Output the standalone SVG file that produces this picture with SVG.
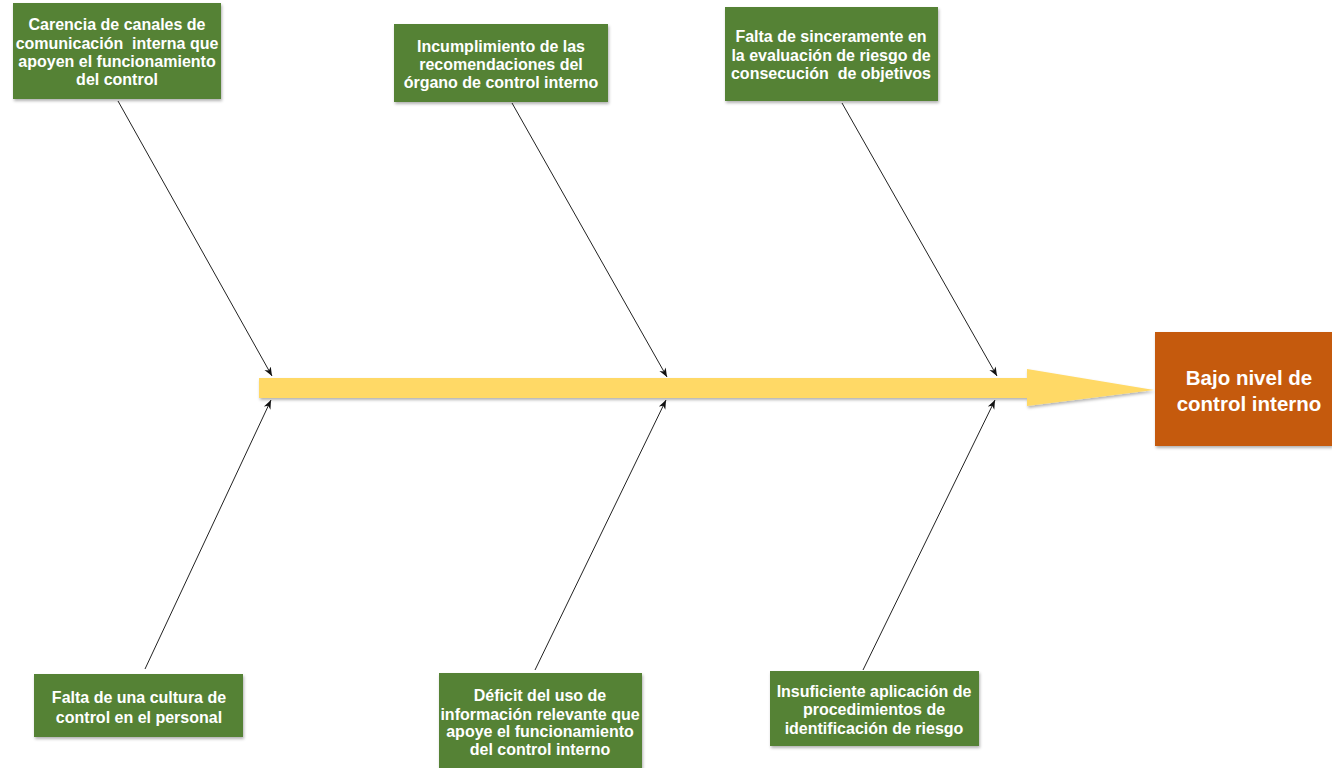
<svg xmlns="http://www.w3.org/2000/svg" width="1332" height="768" viewBox="0 0 1332 768">
<style>
.box{fill:#548235;}
.eff{fill:#C55A11;}
.t{font-family:"Liberation Sans",Arial,sans-serif;font-weight:bold;font-size:16px;fill:#fff;text-anchor:middle;white-space:pre;}
.te{font-family:"Liberation Sans",Arial,sans-serif;font-weight:bold;font-size:20.5px;fill:#fff;text-anchor:middle;}
.c{stroke:#222;stroke-width:1;fill:none;marker-end:url(#ah);}
</style>
<defs>
<marker id="ah" viewBox="0 0 10 10" refX="10" refY="5" markerWidth="9" markerHeight="9" markerUnits="userSpaceOnUse" orient="auto">
<path d="M0,1 L10,5 L0,9 L3,5 Z" fill="#111"/>
</marker>
<filter id="sh" x="-10%" y="-10%" width="130%" height="140%">
<feDropShadow dx="1" dy="2" stdDeviation="1.5" flood-color="#000" flood-opacity="0.3"/>
</filter>
</defs>
<rect width="1332" height="768" fill="#fff"/>
<g id="spine">
<path d="M259,378 L1027,378 L1027,369 L1154,390 L1027,406 L1027,398 L259,398 Z" fill="#FFD966" filter="url(#sh)"/>
</g>
<g id="connectors">
<line class="c" x1="118" y1="101" x2="272" y2="376"/>
<line class="c" x1="512" y1="103" x2="667" y2="377"/>
<line class="c" x1="842" y1="103" x2="997" y2="376"/>
<line class="c" x1="145" y1="669" x2="271" y2="400"/>
<line class="c" x1="535" y1="670" x2="666" y2="400"/>
<line class="c" x1="863" y1="670" x2="995" y2="400"/>
</g>
<g id="n1">
<rect class="box" x="13" y="3" width="208" height="96" filter="url(#sh)"/>
<text class="t" x="117" y="30">Carencia de canales de</text>
<text class="t" x="117" y="49" xml:space="preserve">comunicación  interna que</text>
<text class="t" x="117" y="67">apoyen el funcionamiento</text>
<text class="t" x="117" y="85">del control</text>
</g>
<g id="n2">
<rect class="box" x="394" y="24" width="214" height="78" filter="url(#sh)"/>
<text class="t" x="501" y="52">Incumplimiento de las</text>
<text class="t" x="501" y="70">recomendaciones del</text>
<text class="t" x="501" y="88">órgano de control interno</text>
</g>
<g id="n3">
<rect class="box" x="725" y="7" width="213" height="94" filter="url(#sh)"/>
<text class="t" x="831" y="42">Falta de sinceramente en</text>
<text class="t" x="831" y="61">la evaluación de riesgo de</text>
<text class="t" x="831" y="79" xml:space="preserve">consecución  de objetivos</text>
</g>
<g id="n4">
<rect class="box" x="34" y="674" width="209" height="63" filter="url(#sh)"/>
<text class="t" x="139" y="703">Falta de una cultura de</text>
<text class="t" x="139" y="723">control en el personal</text>
</g>
<g id="n5">
<rect class="box" x="439" y="673" width="203" height="95" filter="url(#sh)"/>
<text class="t" x="540" y="701">Déficit del uso de</text>
<text class="t" x="540" y="720">información relevante que</text>
<text class="t" x="540" y="737">apoye el funcionamiento</text>
<text class="t" x="540" y="755">del control interno</text>
</g>
<g id="n6">
<rect class="box" x="770" y="671" width="209" height="75" filter="url(#sh)"/>
<text class="t" x="874" y="697">Insuficiente aplicación de</text>
<text class="t" x="874" y="715">procedimientos de</text>
<text class="t" x="874" y="734">identificación de riesgo</text>
</g>
<g id="effect">
<rect class="eff" x="1155" y="332" width="177" height="114" filter="url(#sh)"/>
<text class="te" x="1249" y="385">Bajo nivel de</text>
<text class="te" x="1249" y="411">control interno</text>
</g>
</svg>
